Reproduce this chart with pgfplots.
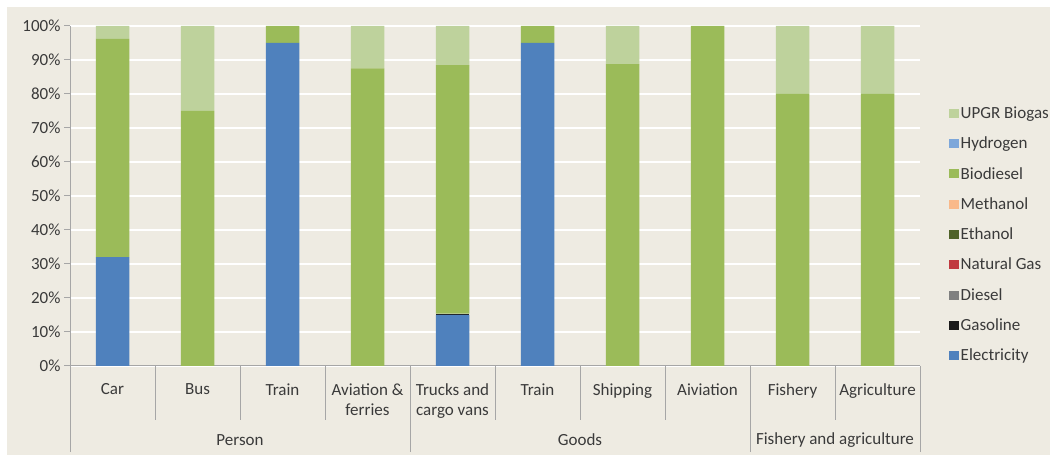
\documentclass[border=0pt]{standalone}
\usepackage{fontspec}
\setmainfont{Carlito}
\usepackage{pgfplots}
\usepackage{pgfplotstable}
\pgfplotsset{compat=1.18}

\definecolor{bg}{HTML}{EEEBE2}
\definecolor{txt}{HTML}{3A3A3A}
\definecolor{axgray}{HTML}{A6A6A6}
\definecolor{cElec}{HTML}{4F81BD}
\definecolor{cGas}{HTML}{1A1A1A}
\definecolor{cDies}{HTML}{808080}
\definecolor{cNat}{HTML}{C0393F}
\definecolor{cEth}{HTML}{4F6228}
\definecolor{cMeth}{HTML}{F9B98A}
\definecolor{cBio}{HTML}{9BBB59}
\definecolor{cHyd}{HTML}{7DA7DA}
\definecolor{cUpgr}{HTML}{BED29C}

% x: Car, Bus, Train, Aviation & ferries, Trucks, Train, Shipping, Aiviation, Fishery, Agriculture
\pgfplotstableread{
x  elec gas  dies nat eth meth bio   hyd upgr
0  32   0    0    0   0   0    64.2  0   3.8
1  0    0    0    0   0   0    75    0   25
2  95   0    0    0   0   0    5     0   0
3  0    0    0    0   0   0    87.5  0   12.5
4  15   0.4  0    0   0   0    73.1  0   11.5
5  95   0    0    0   0   0    5     0   0
6  0    0    0    0   0   0    88.8  0   11.2
7  0    0    0    0   0   0    100   0   0
8  0    0    0    0   0   0    80    0   20
9  0    0    0    0   0   0    80    0   20
}\mix

\begin{document}
\begin{tikzpicture}[x=1pt,y=1pt]
\path[use as bounding box] (0,0) rectangle (1053,455);
\fill[white] (0,0) rectangle (1053,455);
\fill[bg] (7,0) rectangle (1050,448);
\begin{axis}[
    at={(70pt,89pt)}, anchor=south west,
    width=850pt, height=340pt, scale only axis,
    xmin=-0.5, xmax=9.5, ymin=0, ymax=100,
    ybar stacked, bar width=33.5pt,
    axis x line*=bottom, axis y line*=left,
    axis line style={axgray, line width=1pt, -},
    ytick={0,10,...,100},
    yticklabels={0\%,10\%,20\%,30\%,40\%,50\%,60\%,70\%,80\%,90\%,100\%},
    tick align=outside, major tick length=6pt,
    ytick style={axgray, line width=1pt},
    xtick={0,...,9},
    xtick style={draw=none},
    xticklabels={Car, Bus, Train, {Aviation \&\\ferries}, {Trucks and\\cargo vans}, Train, Shipping, Aiviation, Fishery, Agriculture},
    xticklabel style={align=center, anchor=north, yshift=-8pt},
    ticklabel style={font=\fontsize{17}{20}\selectfont, text=txt},
    ymajorgrids, grid style={white, line width=1.5pt},
    clip=false,
    reverse legend,
    legend style={at={(1.03,0.775)}, anchor=north west, draw=none, fill=none,
        font=\fontsize{17}{20}\selectfont, text=txt, row sep=13pt},
    legend cell align=left,
    legend image code/.code={\fill[#1] (0pt,-4.5pt) rectangle (10pt,4.5pt);},
]
\addplot[fill=cElec, draw=none] table[x=x, y=elec] {\mix};
\addplot[fill=cGas, draw=none] table[x=x, y=gas] {\mix};
\addplot[fill=cDies, draw=none] table[x=x, y=dies] {\mix};
\addplot[fill=cNat, draw=none] table[x=x, y=nat] {\mix};
\addplot[fill=cEth, draw=none] table[x=x, y=eth] {\mix};
\addplot[fill=cMeth, draw=none] table[x=x, y=meth] {\mix};
\addplot[fill=cBio, draw=none] table[x=x, y=bio] {\mix};
\addplot[fill=cHyd, draw=none] table[x=x, y=hyd] {\mix};
\addplot[fill=cUpgr, draw=none] table[x=x, y=upgr] {\mix};
\legend{Electricity, Gasoline, Diesel, Natural Gas, Ethanol, Methanol, Biodiesel, Hydrogen, UPGR Biogas}

% category separators
\pgfplotsinvokeforeach{0.5,1.5,2.5,4.5,5.5,6.5,8.5}{
  \draw[axgray, line width=1pt] (axis cs:#1,0) -- ++(0pt,-54pt);
}
\pgfplotsinvokeforeach{-0.5,3.5,7.5,9.5}{
  \draw[axgray, line width=1pt] (axis cs:#1,0) -- ++(0pt,-86pt);
}
\node[text=txt, font=\fontsize{17}{20}\selectfont, yshift=-74pt] at (axis cs:1.5,0) {Person};
\node[text=txt, font=\fontsize{17}{20}\selectfont, yshift=-74pt] at (axis cs:5.5,0) {Goods};
\node[text=txt, font=\fontsize{17}{20}\selectfont, yshift=-74pt] at (axis cs:8.5,0) {Fishery and agriculture};
\end{axis}
\end{tikzpicture}
\end{document}
